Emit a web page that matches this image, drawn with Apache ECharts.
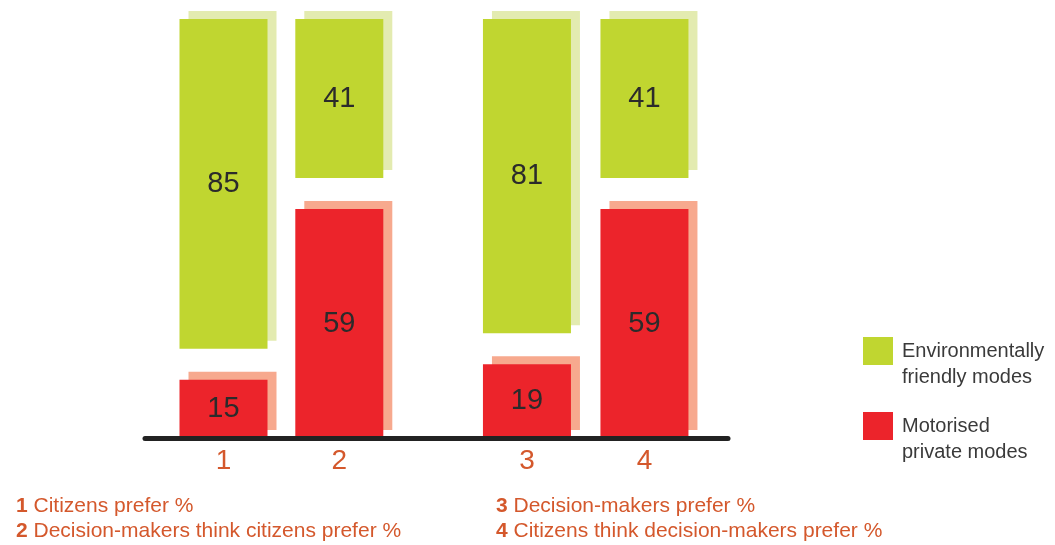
<!DOCTYPE html>
<html>
<head>
<meta charset="utf-8">
<script src="https://cdn.jsdelivr.net/npm/echarts@6/dist/echarts.min.js"></script>
<style>
html,body{margin:0;padding:0;background:#fff;}
#chart{width:1055px;height:545px;}
</style>
</head>
<body>
<div id="chart"></div>
<script>
// ---- data ----
const categoriesLeft = ['1', '2'];
const categoriesRight = ['3', '4'];
const motorisedLeft = [15, 59];
const friendlyLeft = [85, 41];
const motorisedRight = [19, 59];
const friendlyRight = [81, 41];
const seriesNames = ['Environmentally friendly modes', 'Motorised private modes'];
const legendLabels = ['Environmentally\nfriendly modes', 'Motorised\nprivate modes'];
const notesLeft = ['1 Citizens prefer %', '2 Decision-makers think citizens prefer %'];
const notesRight = ['3 Decision-makers prefer %', '4 Citizens think decision-makers prefer %'];

// ---- style ----
const GREEN = '#c0d630', GREEN_SH = '#e3ebb0';
const RED = '#ec242b', RED_SH = '#f7a98e';
const ORANGE = '#d4582c';
const GAP = 8;
const FONT = '"Liberation Sans", Arial, Helvetica, sans-serif';

const chart = echarts.init(document.getElementById('chart'), null, {renderer: 'canvas'});

const gridTop = 19, gridBottom = 107;
function grid(left, width) { return {left: left, width: width, top: gridTop, bottom: gridBottom}; }

function xCat(gridIndex, cats) {
  return {
    type: 'category', gridIndex: gridIndex, data: cats,
    axisLine: {show: false}, axisTick: {show: false},
    axisLabel: {color: ORANGE, fontSize: 28, fontFamily: FONT, margin: 9}
  };
}
function yVal(gridIndex) {
  return {type: 'value', gridIndex: gridIndex, min: 0, max: 100 + GAP, show: false, splitLine: {show: false}};
}
const label = {show: true, position: 'inside', color: '#2b2b2b', fontSize: 29, fontFamily: FONT};
function barSet(idx, motor, friendly) {
  const stack = 's' + idx;
  return [
    {name: seriesNames[1], type: 'bar', xAxisIndex: idx, yAxisIndex: idx, stack: stack, barWidth: 88,
     data: motor, label: label,
     itemStyle: {color: RED, shadowColor: RED_SH, shadowOffsetX: 9, shadowOffsetY: -8, shadowBlur: 0}},
    {name: 'gap', type: 'bar', xAxisIndex: idx, yAxisIndex: idx, stack: stack, barWidth: 88,
     data: motor.map(() => GAP), itemStyle: {color: 'rgba(0,0,0,0)'}, silent: true, label: {show: false}},
    {name: seriesNames[0], type: 'bar', xAxisIndex: idx, yAxisIndex: idx, stack: stack, barWidth: 88,
     data: friendly, label: label,
     itemStyle: {color: GREEN, shadowColor: GREEN_SH, shadowOffsetX: 9, shadowOffsetY: -8, shadowBlur: 0}}
  ];
}
function noteText(lines) {
  return lines.map(s => {
    const i = s.indexOf(' ');
    return '{b|' + s.slice(0, i) + '}{n|' + s.slice(i) + '}';
  }).join('\n');
}
const noteRich = {
  b: {fontFamily: FONT, fontSize: 21, fontWeight: 'bold', color: ORANGE, lineHeight: 25},
  n: {fontFamily: FONT, fontSize: 21, fontWeight: 'normal', color: ORANGE, lineHeight: 25}
};

const option = {
  animation: false,
  backgroundColor: '#fff',
  grid: [grid(165.6, 231.6), grid(468.2, 235), {left: 145, width: 583, top: gridTop, bottom: gridBottom}],
  xAxis: [
    xCat(0, categoriesLeft), xCat(1, categoriesRight),
    {type: 'value', gridIndex: 2, min: 0, max: 1, z: 10,
     axisLine: {show: true, lineStyle: {color: '#222', width: 5}},
     axisTick: {show: false}, axisLabel: {show: false}, splitLine: {show: false}}
  ],
  yAxis: [yVal(0), yVal(1), yVal(2)],
  legend: {
    orient: 'vertical', left: 858, top: 307, itemWidth: 30, itemHeight: 28, itemGap: -3,
    icon: 'rect', selectedMode: false,
    data: [seriesNames[0], seriesNames[1]],
    formatter: name => '\n' + legendLabels[seriesNames.indexOf(name)],
    itemStyle: {shadowColor: 'rgba(0,0,0,0)', shadowOffsetX: 0, shadowOffsetY: 0, shadowBlur: 0},
    textStyle: {fontFamily: FONT, fontSize: 20, color: '#3a3a3a', lineHeight: 26, padding: [0, 0, 0, 4]}
  },
  title: [
    {left: 16, top: 494, padding: 0, text: noteText(notesLeft),
     textStyle: {rich: noteRich, lineHeight: 25, fontWeight: 'normal'}},
    {left: 496, top: 494, padding: 0, text: noteText(notesRight),
     textStyle: {rich: noteRich, lineHeight: 25, fontWeight: 'normal'}}
  ],
  series: [].concat(barSet(0, motorisedLeft, friendlyLeft), barSet(1, motorisedRight, friendlyRight))
};
chart.setOption(option);
</script>
</body>
</html>
